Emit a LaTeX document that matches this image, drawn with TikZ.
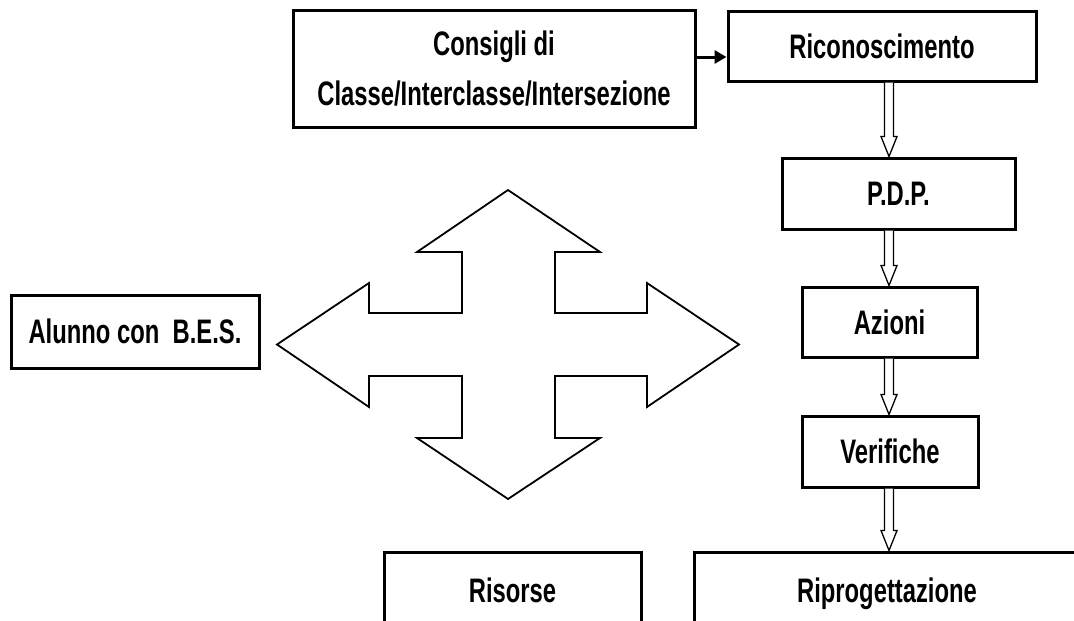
\documentclass[tikz,border=0pt]{standalone}
\usepackage{fontspec}
\newfontfamily\labfont{Liberation Sans}[FakeStretch=0.70]
\usetikzlibrary{arrows.meta,calc}
\tikzset{
  box/.style={draw=black, line width=3pt, fill=white, inner sep=0pt,
    font=\labfont\bfseries\fontsize{34}{50}\selectfont,
    text height=24pt, text depth=0pt, align=center},
  hol/.style={draw=black, line width=1.3pt, fill=white, line join=miter},
  cross/.style={draw=black, line width=1.8pt, fill=white, line join=miter},
  blk/.style={draw=black, line width=3pt, -{Triangle[length=12pt,width=13pt]}}
}
\newcommand\hollowarr[2]{%
  \draw[hol] let \p1=(#1), \p2=(#2) in
    (\x1-4.5pt,\y1) -- (\x1-4.5pt,\y2+20pt) -- (\x1-8pt,\y2+20pt) -- (\x2,\y2)
    -- (\x1+8pt,\y2+20pt) -- (\x1+4.5pt,\y2+20pt) -- (\x1+4.5pt,\y1);}
\begin{document}
\begin{tikzpicture}[x=1pt,y=-1pt]
\useasboundingbox (0,0) rectangle (1074,621);
\fill[white] (0,0) rectangle (1074,621);
\clip (0,0) rectangle (1074,621);
% boxes
\node[box, minimum width=402pt, minimum height=117pt, text height={}, text depth={}] (cons) at (494,68.5)
  {\raisebox{2pt}{Consigli di}\\[-2pt]Classe/Interclasse/Intersezione};
\node[box, minimum width=308pt, minimum height=70pt] (ric) at (882,46) {Riconoscimento};
\node[box, minimum width=233pt, minimum height=71pt] (pdp) at (898.5,193.5) {P.D.P.};
\node[box, minimum width=175pt, minimum height=70pt] (az) at (889.5,322) {Azioni};
\node[box, minimum width=176pt, minimum height=71pt] (ver) at (890,451.5) {Verifiche};
\node[box, minimum width=257pt, minimum height=76pt] (ris) at (512.5,590) {Risorse};
\node[box, minimum width=386pt, minimum height=76pt] (rip) at (887,590) {Riprogettazione};
\node[box, minimum width=248pt, minimum height=73pt] (alu) at (135,331.5) {Alunno con~ B.E.S.};
% black arrow
\coordinate (ay) at (0,57);
\draw[blk] (cons.east |- ay) -- (ric.west |- ay);
% hollow arrows
\coordinate (ax) at (889,0);
\coordinate (r1) at (ric.south -| ax); \coordinate (p1) at (pdp.north -| ax);
\coordinate (p2) at (pdp.south -| ax); \coordinate (a1) at (az.north -| ax);
\coordinate (a2) at (az.south -| ax);  \coordinate (v1) at (ver.north -| ax);
\coordinate (v2) at (ver.south -| ax); \coordinate (q1) at (rip.north -| ax);
\hollowarr{r1}{p1}
\hollowarr{p2}{a1}
\hollowarr{a2}{v1}
\hollowarr{v2}{q1}
% four-way arrow
\draw[cross] (508,190) -- (600,252) -- (555,252) -- (555,313) -- (647,313) -- (647,283)
  -- (739,344.5) -- (647,407) -- (647,376) -- (555,376) -- (555,438) -- (600,438)
  -- (508,499) -- (417,438) -- (462,438) -- (462,376) -- (369,376) -- (369,407)
  -- (277,344.5) -- (369,283) -- (369,313) -- (462,313) -- (462,252) -- (417,252) -- cycle;
\end{tikzpicture}
\end{document}
